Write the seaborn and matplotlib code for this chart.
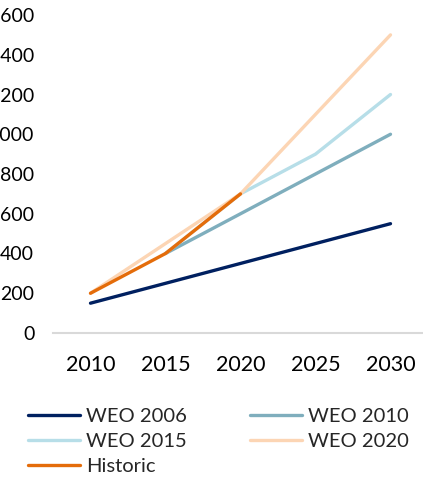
import numpy as np
import pandas as pd
import seaborn as sns
import matplotlib.pyplot as plt

years = [2010, 2015, 2020, 2025, 2030]
weo_2006 = [150, 250, 350, 450, 550]
weo_2010 = [np.nan, 400, 600, 800, 1000]
weo_2015 = [np.nan, 400, 700, 900, 1200]
weo_2020 = [200, 450, 700, 1100, 1500]
historic = [200, 400, 700, np.nan, np.nan]

series_names = ["WEO 2006", "WEO 2010", "WEO 2015", "WEO 2020", "Historic"]
series_values = [weo_2006, weo_2010, weo_2015, weo_2020, historic]
colors = ["#002060", "#7faebd", "#b7dee8", "#fcd5b4", "#e46c0a"]
y_ticks = [0, 200, 400, 600, 800, 1000, 1200, 1400, 1600]

rows = []
for name, vals in zip(series_names, series_values):
    for yr, v in zip(years, vals):
        rows.append({"year": yr, "value": v, "series": name})
df = pd.DataFrame(rows).dropna()

sns.set_style("white")
plt.rcParams["font.family"] = ["Lato", "DejaVu Sans"]

fig = plt.figure(figsize=(4.23, 4.84), dpi=100)
ax = fig.add_axes([53 / 423, 1 - 333 / 484, 375 / 423, 318 / 484])

sns.lineplot(data=df, x="year", y="value", hue="series",
             hue_order=series_names, palette=colors, linewidth=2.4,
             ax=ax, legend=False)

ax.set_xlim(2007.5, 2032.5)
ax.set_ylim(0, 1600)
ax.set_xticks(years)
ax.set_yticks(y_ticks)
ax.set_xlabel("")
ax.set_ylabel("")
ax.tick_params(axis="both", length=0, colors="black")
ax.tick_params(axis="y", pad=13.5, labelsize=14)
ax.tick_params(axis="x", pad=16, labelsize=15.5)
for s in ["top", "right", "left"]:
    ax.spines[s].set_visible(False)
ax.spines["bottom"].set_color("#d9d9d9")
ax.spines["bottom"].set_linewidth(1.5)

handles = [plt.Line2D([], [], color=c, linewidth=2.4) for c in colors]
order = [0, 2, 4, 1, 3]
fig.legend([handles[i] for i in order], [series_names[i] for i in order],
           loc="upper left", bbox_to_anchor=(28 / 423, 1 - 408 / 484),
           ncol=2, frameon=False, fontsize=14.5, handlelength=2.6,
           handletextpad=0.3, columnspacing=3.1, labelspacing=0.38,
           borderaxespad=0, borderpad=0)

fig.savefig("out.png", dpi=100)
